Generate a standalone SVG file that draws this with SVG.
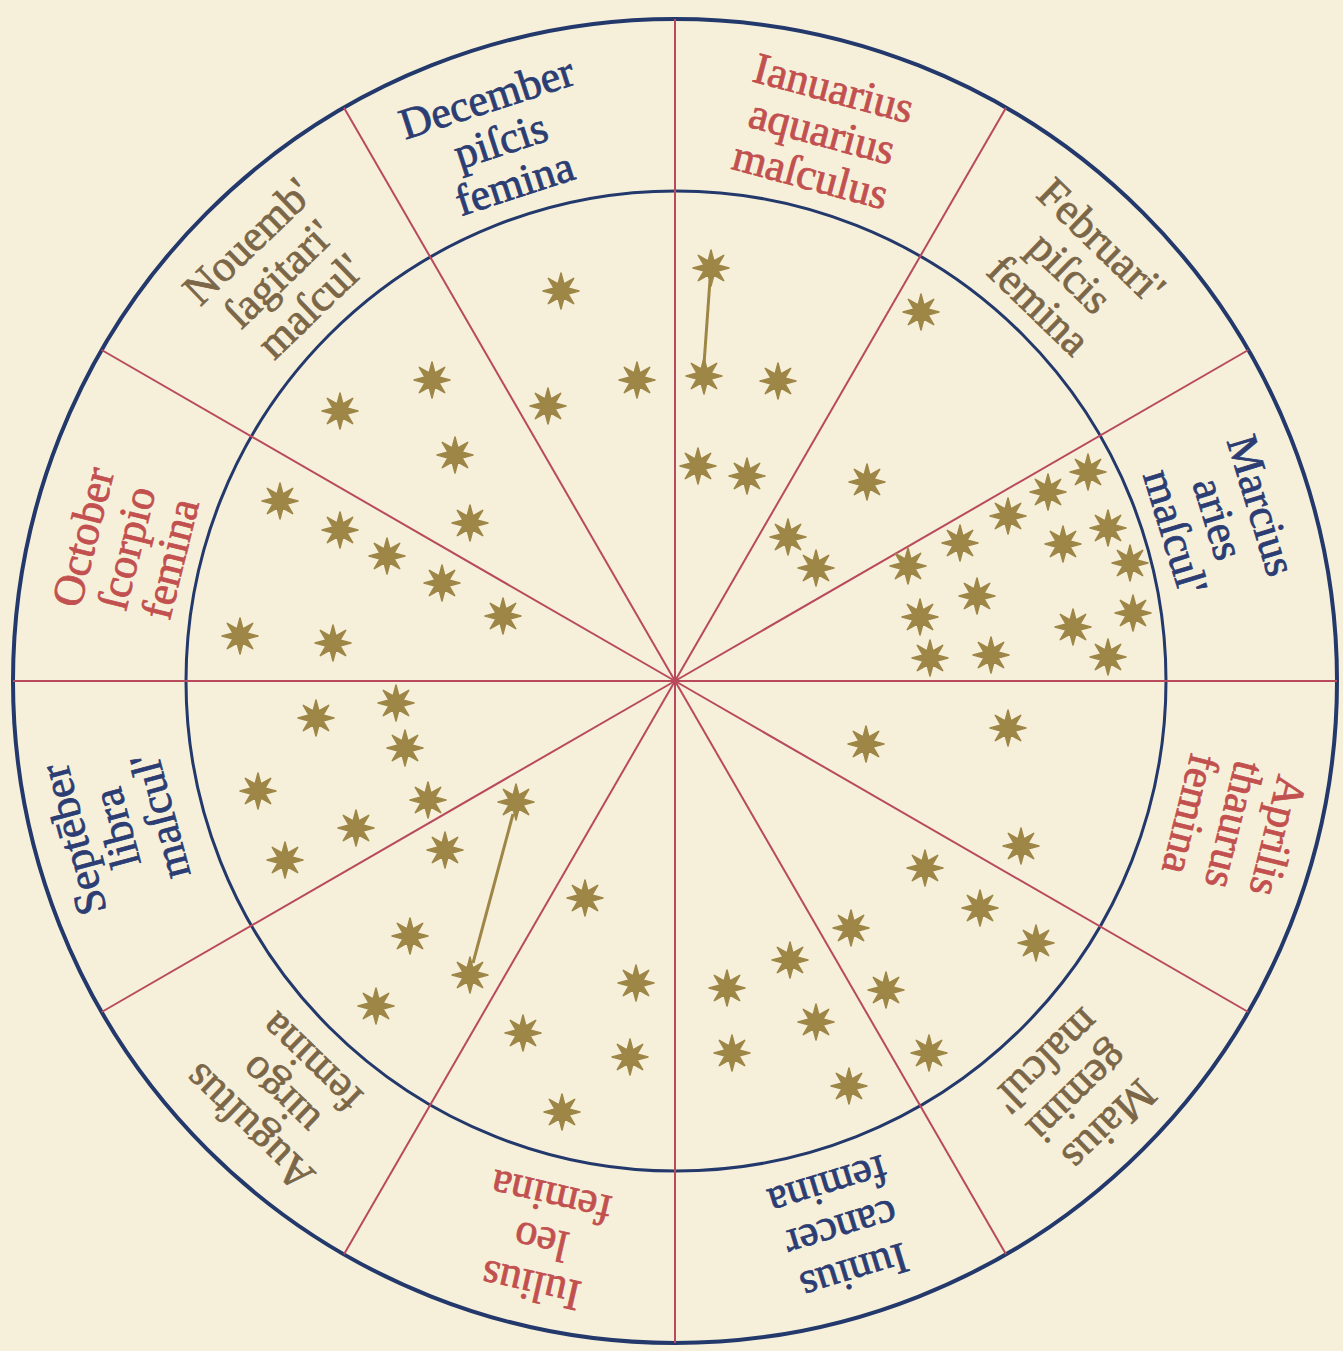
<svg xmlns="http://www.w3.org/2000/svg" xmlns:xlink="http://www.w3.org/1999/xlink" width="1343" height="1351" viewBox="0 0 1343 1351">
<style>
.lbl{font-family:"Liberation Serif","DejaVu Serif",serif;font-size:44px;text-anchor:middle;stroke-width:0.8}
.blue{fill:#2b3d73;stroke:#2b3d73}
.red{fill:#c2504f;stroke:#c2504f}
.brown{fill:#7b6748;stroke:#7b6748}
.spoke{stroke:#b84a5c;stroke-width:2;fill:none}
.ring{fill:none;stroke:#23386b}
.link{stroke:#9d8646;stroke-width:3;fill:none}
</style>
<defs>
<polygon id="star" fill="#9d8646" stroke="#9d8646" stroke-width="1.5" stroke-linejoin="round" points="0,-18 2.9,-7 12.7,-12.7 7,-2.9 18,0 7,2.9 12.7,12.7 2.9,7 0,18 -2.9,7 -12.7,12.7 -7,2.9 -18,0 -7,-2.9 -12.7,-12.7 -2.9,-7"/>
</defs>
<rect width="1343" height="1351" fill="#f6f0db"/>
<g id="rings">
<circle class="ring" cx="675" cy="681" r="662" stroke-width="4"/>
<circle class="ring" cx="676" cy="681" r="490" stroke-width="3"/>
</g>
<g id="connectors">
<g id="spokes" transform="translate(675,681)">
<line class="spoke" x1="0" y1="0" x2="0" y2="-662"/>
<line class="spoke" x1="0" y1="0" x2="0" y2="-662" transform="rotate(30)"/>
<line class="spoke" x1="0" y1="0" x2="0" y2="-662" transform="rotate(60)"/>
<line class="spoke" x1="0" y1="0" x2="0" y2="-662" transform="rotate(90)"/>
<line class="spoke" x1="0" y1="0" x2="0" y2="-662" transform="rotate(120)"/>
<line class="spoke" x1="0" y1="0" x2="0" y2="-662" transform="rotate(150)"/>
<line class="spoke" x1="0" y1="0" x2="0" y2="-662" transform="rotate(180)"/>
<line class="spoke" x1="0" y1="0" x2="0" y2="-662" transform="rotate(210)"/>
<line class="spoke" x1="0" y1="0" x2="0" y2="-662" transform="rotate(240)"/>
<line class="spoke" x1="0" y1="0" x2="0" y2="-662" transform="rotate(270)"/>
<line class="spoke" x1="0" y1="0" x2="0" y2="-662" transform="rotate(300)"/>
<line class="spoke" x1="0" y1="0" x2="0" y2="-662" transform="rotate(330)"/>
</g>
<line class="link" x1="710" y1="280" x2="704" y2="364"/>
<line class="link" x1="513" y1="814" x2="473" y2="963"/>
</g>
<g id="labels">
<g id="january" class="lbl red" transform="translate(821,136) rotate(15)"><text y="-35">Ianuarius</text><text y="10">aquarius</text><text y="55">maſculus</text></g>
<g id="february" class="lbl brown" transform="translate(1067,276) rotate(44)"><text y="-35">Februari'</text><text y="10">piſcis</text><text y="55">femina</text></g>
<g id="march" class="lbl blue" transform="translate(1214,520) rotate(73)"><text y="-35">Marcius</text><text y="10">aries</text><text y="55">maſcul'</text></g>
<g id="april" class="lbl red" transform="translate(1230,824) rotate(104)"><text y="-35">Aprilis</text><text y="10">thaurus</text><text y="55">femina</text></g>
<g id="may" class="lbl brown" transform="translate(1075,1090) rotate(136)"><text y="-35">Maius</text><text y="10">gemini</text><text y="55">maſcul'</text></g>
<g id="june" class="lbl blue" transform="translate(840,1225) rotate(163)"><text y="-35">Iunius</text><text y="10">cancer</text><text y="55">femina</text></g>
<g id="july" class="lbl red" transform="translate(542,1237) rotate(193)"><text y="-35">Iulius</text><text y="10">leo</text><text y="55">femina</text></g>
<g id="august" class="lbl brown" transform="translate(283,1092) rotate(224)"><text y="-35">Auguſtus</text><text y="10">uirgo</text><text y="55">femina</text></g>
<g id="september" class="lbl blue" transform="translate(121,827) rotate(255)"><text y="-35">Septēber</text><text y="10">libra</text><text y="55">maſcul'</text></g>
<g id="october" class="lbl red" transform="translate(131,549) rotate(284)"><text y="-35">October</text><text y="10">ſcorpio</text><text y="55">femina</text></g>
<g id="november" class="lbl brown" transform="translate(282,277) rotate(316)"><text y="-35">Nouemb'</text><text y="10">ſagitari'</text><text y="55">maſcul'</text></g>
<g id="december" class="lbl blue" transform="translate(502,145) rotate(342)"><text y="-35">December</text><text y="10">piſcis</text><text y="55">femina</text></g>
</g>
<g id="stars">
<use href="#star" x="561" y="291"/>
<use href="#star" x="711" y="268"/>
<use href="#star" x="704" y="376"/>
<use href="#star" x="637" y="380"/>
<use href="#star" x="548" y="406"/>
<use href="#star" x="778" y="381"/>
<use href="#star" x="698" y="466"/>
<use href="#star" x="747" y="476"/>
<use href="#star" x="867" y="482"/>
<use href="#star" x="921" y="312"/>
<use href="#star" x="788" y="537"/>
<use href="#star" x="816" y="568"/>
<use href="#star" x="1088" y="472"/>
<use href="#star" x="1048" y="492"/>
<use href="#star" x="1008" y="516"/>
<use href="#star" x="960" y="543"/>
<use href="#star" x="908" y="566"/>
<use href="#star" x="1108" y="528"/>
<use href="#star" x="1063" y="544"/>
<use href="#star" x="1130" y="563"/>
<use href="#star" x="977" y="596"/>
<use href="#star" x="920" y="617"/>
<use href="#star" x="1133" y="613"/>
<use href="#star" x="1073" y="627"/>
<use href="#star" x="930" y="658"/>
<use href="#star" x="991" y="655"/>
<use href="#star" x="1108" y="657"/>
<use href="#star" x="1008" y="728"/>
<use href="#star" x="866" y="744"/>
<use href="#star" x="1021" y="846"/>
<use href="#star" x="925" y="868"/>
<use href="#star" x="980" y="908"/>
<use href="#star" x="1036" y="943"/>
<use href="#star" x="851" y="928"/>
<use href="#star" x="886" y="990"/>
<use href="#star" x="790" y="960"/>
<use href="#star" x="816" y="1022"/>
<use href="#star" x="727" y="988"/>
<use href="#star" x="929" y="1053"/>
<use href="#star" x="849" y="1086"/>
<use href="#star" x="732" y="1053"/>
<use href="#star" x="636" y="983"/>
<use href="#star" x="630" y="1057"/>
<use href="#star" x="523" y="1033"/>
<use href="#star" x="562" y="1112"/>
<use href="#star" x="585" y="898"/>
<use href="#star" x="516" y="802"/>
<use href="#star" x="470" y="975"/>
<use href="#star" x="410" y="936"/>
<use href="#star" x="376" y="1006"/>
<use href="#star" x="445" y="850"/>
<use href="#star" x="428" y="800"/>
<use href="#star" x="356" y="828"/>
<use href="#star" x="405" y="748"/>
<use href="#star" x="396" y="703"/>
<use href="#star" x="316" y="718"/>
<use href="#star" x="258" y="791"/>
<use href="#star" x="285" y="860"/>
<use href="#star" x="240" y="636"/>
<use href="#star" x="333" y="643"/>
<use href="#star" x="503" y="616"/>
<use href="#star" x="442" y="583"/>
<use href="#star" x="387" y="556"/>
<use href="#star" x="340" y="530"/>
<use href="#star" x="280" y="501"/>
<use href="#star" x="470" y="523"/>
<use href="#star" x="455" y="455"/>
<use href="#star" x="432" y="380"/>
<use href="#star" x="340" y="411"/>
</g>
</svg>
